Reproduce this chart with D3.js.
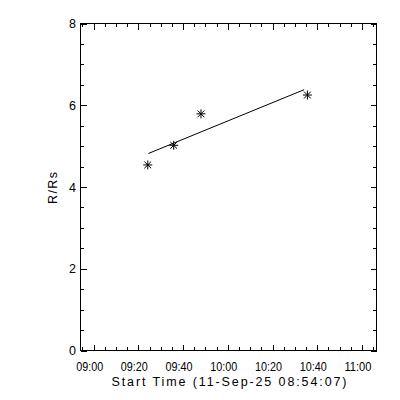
<!DOCTYPE html>
<html>
    <head>
        <script src="https://d3js.org/d3.v7.min.js"></script>
        <style>
            body { margin: 0; background-color: #ffffff; }
            text { font-family: "Liberation Sans", Arial, sans-serif; fill: #000; }
        </style>
    </head>
    <body>
        <div id="chart"></div>
        <script>
            // minutes after 09:00
            const pointTimes = [24.2, 35.8, 48.0, 95.6];
            const pointValues = [4.54, 5.02, 5.79, 6.25];
            const fitTimes = [24.5, 94.1];
            const fitValues = [4.82, 6.38];
            const xTickLabels = ["09:00", "09:20", "09:40", "10:00", "10:20", "10:40", "11:00"];
            const xTickValues = [0, 20, 40, 60, 80, 100, 120];
            const yTickValues = [0, 2, 4, 6, 8];
            const xTitle = "Start Time (11-Sep-25 08:54:07)";
            const yTitle = "R/Rs";

            const W = 400, H = 400;
            const plotL = 80.5, plotR = 376.5, plotT = 23.5, plotB = 350.5;

            const svg = d3.select("#chart").append("svg").attr("width", W).attr("height", H);

            // axis starts at 08:54:07
            const x = d3.scaleLinear().domain([-5.88, 126.5]).range([plotL, plotR]);
            const y = d3.scaleLinear().domain([0, 8]).range([plotB, plotT]);

            const g = svg.append("g").attr("shape-rendering", "crispEdges");

            g.append("rect").attr("x", plotL).attr("y", plotT)
                .attr("width", plotR - plotL).attr("height", plotB - plotT)
                .attr("fill", "none").attr("stroke", "#000");

            // x ticks (minor every 5 min)
            d3.range(-5, 126, 5).forEach(t => {
                const len = (t % 20 === 0) ? 6 : 3.5;
                const px = Math.round(x(t)) + 0.5;
                g.append("line").attr("x1", px).attr("x2", px).attr("y1", plotB).attr("y2", plotB - len).attr("stroke", "#000");
                g.append("line").attr("x1", px).attr("x2", px).attr("y1", plotT).attr("y2", plotT + len).attr("stroke", "#000");
            });
            // y ticks (minor every 0.5)
            d3.range(0, 8.01, 0.5).forEach(v => {
                const len = (v % 2 === 0) ? 6 : 3.5;
                const py = Math.round(y(v)) + 0.5;
                g.append("line").attr("y1", py).attr("y2", py).attr("x1", plotL).attr("x2", plotL + len).attr("stroke", "#000");
                g.append("line").attr("y1", py).attr("y2", py).attr("x1", plotR).attr("x2", plotR - len).attr("stroke", "#000");
            });

            svg.selectAll(".xlab").data(xTickValues).join("text")
                .attr("x", (d) => x(d) - 4)
                .attr("y", 371)
                .attr("text-anchor", "middle")
                .attr("font-size", 12.5)
                .attr("textLength", 27).attr("lengthAdjust", "spacingAndGlyphs")
                .text((d, i) => xTickLabels[i]);

            svg.selectAll(".ylab").data(yTickValues).join("text")
                .attr("x", 76)
                .attr("y", (d) => y(d) + 4.5)
                .attr("text-anchor", "end")
                .attr("font-size", 12.5)
                .text((d) => d);

            svg.append("text").attr("x", 229).attr("y", 386)
                .attr("text-anchor", "middle").attr("font-size", 12.5)
                .attr("textLength", 235).attr("lengthAdjust", "spacing")
                .text(xTitle);

            svg.append("text").attr("transform", "translate(57,188) rotate(-90)")
                .attr("text-anchor", "middle").attr("font-size", 12.5)
                .attr("textLength", 32).attr("lengthAdjust", "spacing")
                .text(yTitle);

            // fit line
            svg.append("path")
                .datum(fitTimes.map((t, i) => [t, fitValues[i]]))
                .attr("d", d3.line().x(d => x(d[0])).y(d => y(d[1])))
                .attr("fill", "none").attr("stroke", "#000").attr("stroke-width", 1);

            // asterisks
            const r = 4.5, rd = 3.4;
            const star = `M0,${-r}V${r}M${-r},0H${r}M${-rd},${-rd}L${rd},${rd}M${-rd},${rd}L${rd},${-rd}`;
            svg.selectAll(".pt").data(pointTimes).join("path")
                .attr("transform", (d, i) => `translate(${x(d)},${y(pointValues[i])})`)
                .attr("d", star)
                .attr("fill", "none").attr("stroke", "#000").attr("stroke-width", 1);
        </script>
    </body>
</html>
